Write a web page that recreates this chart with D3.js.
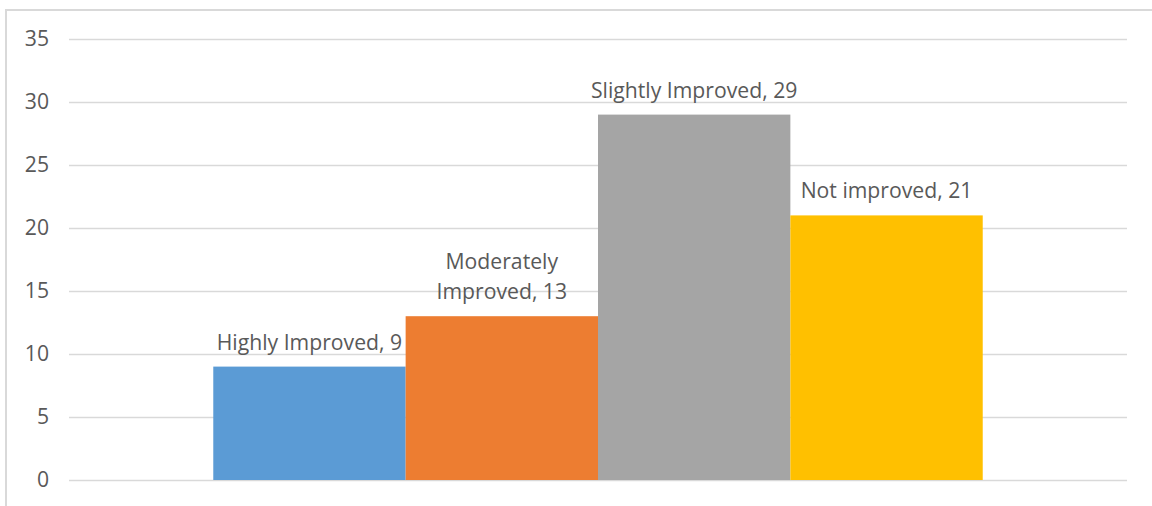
<!DOCTYPE html>
<html>
<head>
<meta charset="utf-8">
<script src="https://cdn.jsdelivr.net/npm/d3@7"></script>
<style>
  html, body { margin: 0; padding: 0; background: #fff; }
  svg { display: block; }
  text { font-family: "Open Sans", "Noto Sans", sans-serif; fill: #595959; }
</style>
</head>
<body>
<svg id="chart" width="1152" height="506"></svg>
<script>
// Responses by improvement level
const categories = ["Highly Improved", "Moderately Improved", "Slightly Improved", "Not improved"];
const values = [9, 13, 29, 21];
const colors = ["#5B9BD5", "#ED7D31", "#A5A5A5", "#FFC000"];
const yTicks = [0, 5, 10, 15, 20, 25, 30, 35];

const svg = d3.select("#chart");
const plot = { left: 69, right: 1127, top: 39, bottom: 480 };
const fontSize = "21.2px";

// Chart frame (runs off the right and bottom edges)
svg.append("rect")
  .attr("x", 6).attr("y", 10)
  .attr("width", 1200).attr("height", 600)
  .attr("fill", "none")
  .attr("stroke", "#d9d9d9")
  .attr("stroke-width", 2);

const y = d3.scaleLinear().domain([0, 35]).range([plot.bottom, plot.top]);
const x = d3.scaleBand()
  .domain(categories)
  .range([plot.left, plot.right])
  .paddingInner(0)
  .paddingOuter(0.75);

// Gridlines and value axis labels
const yAxis = d3.axisLeft(y).tickValues(yTicks).tickSize(-(plot.right - plot.left)).tickPadding(20);
const gy = svg.append("g").attr("transform", `translate(${plot.left},0)`).call(yAxis);
gy.select(".domain").remove();
gy.selectAll(".tick line").attr("stroke", "#d9d9d9").attr("stroke-width", 1.5);
gy.selectAll(".tick text")
  .attr("fill", "#595959")
  .style("font-size", fontSize)
  .style("font-family", "'Open Sans', 'Noto Sans', sans-serif");

// Bars
svg.append("g").selectAll("rect")
  .data(values)
  .join("rect")
  .attr("x", (d, i) => x(categories[i]))
  .attr("width", x.bandwidth())
  .attr("y", d => y(d))
  .attr("height", d => y(0) - y(d))
  .attr("fill", (d, i) => colors[i]);

// Data labels above each bar, wrapped when too wide
const labels = svg.append("g").style("font-size", fontSize);
const maxWidth = 225;
const lineHeight = 30;
values.forEach((v, i) => {
  const full = `${categories[i]}, ${v}`;
  const cx = x(categories[i]) + x.bandwidth() / 2;
  const probe = labels.append("text").text(full);
  const w = probe.node().getComputedTextLength();
  probe.remove();
  let lines = [full];
  if (w > maxWidth) {
    const words = full.split(" ");
    lines = [];
    let cur = "";
    words.forEach(word => {
      const test = cur ? cur + " " + word : word;
      const t = labels.append("text").text(test);
      const tw = t.node().getComputedTextLength();
      t.remove();
      if (tw > maxWidth * 0.8 && cur) { lines.push(cur); cur = word; }
      else cur = test;
    });
    if (cur) lines.push(cur);
  }
  const baseY = y(v) - 17;
  lines.forEach((ln, k) => {
    labels.append("text")
      .attr("x", cx)
      .attr("y", baseY - (lines.length - 1 - k) * lineHeight)
      .attr("text-anchor", "middle")
      .text(ln);
  });
});
</script>
</body>
</html>
